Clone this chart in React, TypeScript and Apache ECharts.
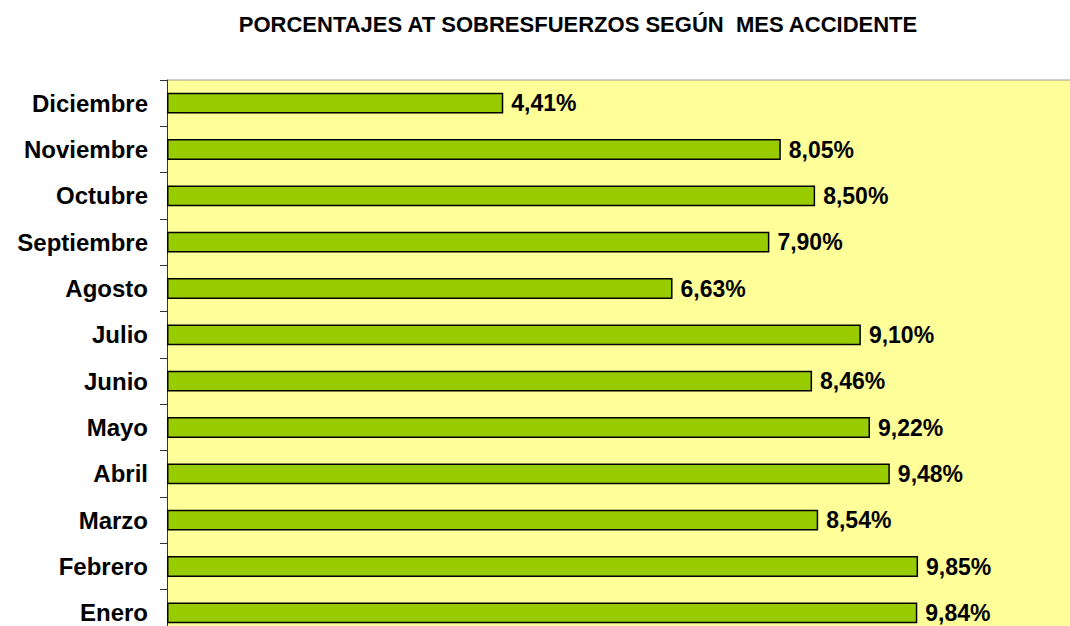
import React, { useEffect, useRef } from "react";
import * as echarts from "echarts";

const title = "PORCENTAJES AT SOBRESFUERZOS SEGÚN  MES ACCIDENTE";
const months = [
  "Enero",
  "Febrero",
  "Marzo",
  "Abril",
  "Mayo",
  "Junio",
  "Julio",
  "Agosto",
  "Septiembre",
  "Octubre",
  "Noviembre",
  "Diciembre",
];
const percentages = [9.84, 9.85, 8.54, 9.48, 9.22, 8.46, 9.1, 6.63, 7.9, 8.5, 8.05, 4.41];

const FONT = "Arial, 'Liberation Sans', Helvetica, sans-serif";

export default function App() {
  const ref = useRef<HTMLDivElement>(null);
  useEffect(() => {
    if (!ref.current) return;
    const chart = echarts.init(ref.current, null, { renderer: "svg" });
    chart.setOption({
      animation: false,
      backgroundColor: "#ffffff",
      title: {
        text: title,
        left: 573,
        textAlign: "center",
        top: 8,
        textStyle: { fontFamily: FONT, fontWeight: "bold", fontSize: 22, color: "#000" },
      },
      grid: { left: 167, top: 80, width: 915, height: 556, show: true, backgroundColor: "#FFFF99", borderWidth: 0 },
      xAxis: {
        type: "value",
        min: 0,
        max: 12,
        show: false,
      },
      yAxis: {
        type: "category",
        data: months,
        axisLine: { show: true, lineStyle: { color: "#333", width: 1 } },
        axisTick: { show: true, length: 7, lineStyle: { color: "#333" } },
        axisLabel: {
          fontFamily: FONT,
          fontWeight: "bold",
          fontSize: 24,
          color: "#000",
          margin: 19,
        },
      },
      graphic: [
        { type: "line", shape: { x1: 167, y1: 80, x2: 1070, y2: 80 }, style: { stroke: "#999", lineWidth: 1 } },
      ],
      series: [
        {
          type: "bar",
          data: percentages,
          barCategoryGap: "55%",
          itemStyle: { color: "#99CC00", borderColor: "#000", borderWidth: 1.5 },
          label: {
            show: true,
            position: "right",
            distance: 8,
            fontFamily: FONT,
            fontWeight: "bold",
            fontSize: 23,
            color: "#000",
            formatter: (p: any) => p.value.toFixed(2).replace(".", ",") + "%",
          },
        },
      ],
    });
    return () => chart.dispose();
  }, []);
  return (
    <div style={{ position: "fixed", left: 0, top: 0, width: 1070, height: 626, overflow: "hidden" }}>
      <div ref={ref} style={{ width: 1100, height: 660 }} />
    </div>
  );
}
